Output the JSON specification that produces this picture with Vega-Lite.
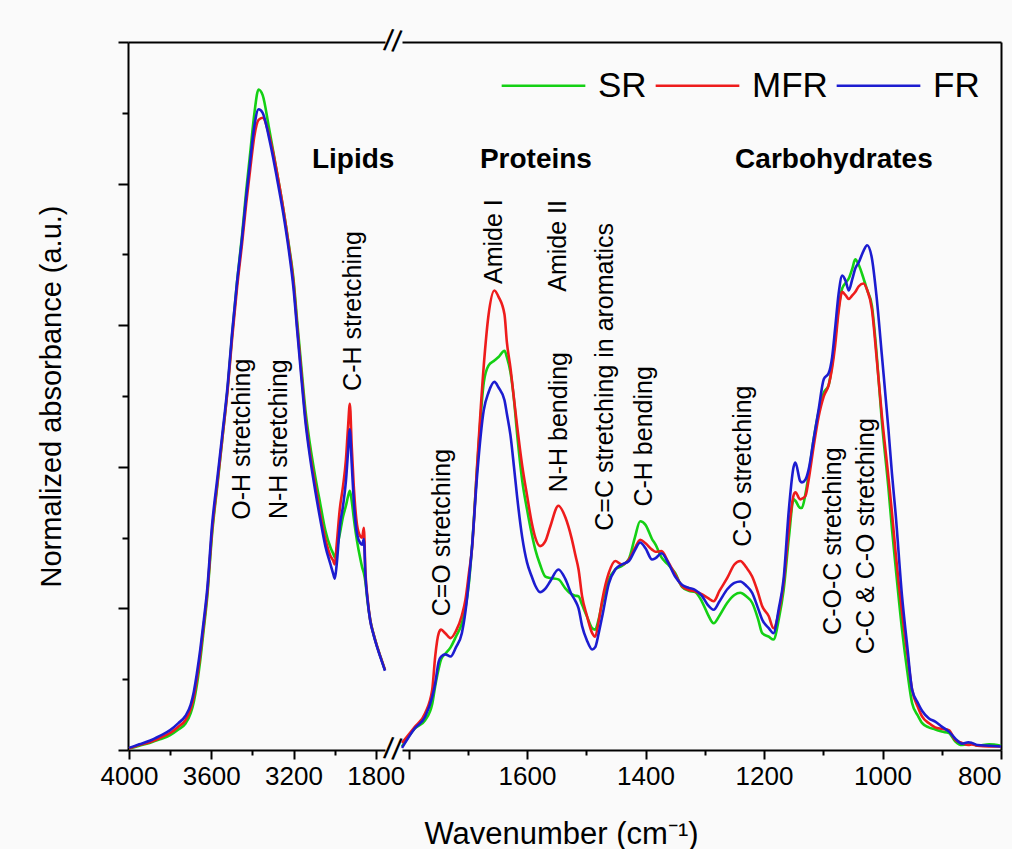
{
  "$schema": "https://vega.github.io/schema/vega-lite/v6.json",
  "background": "#fafafa",
  "padding": {"left": 37, "top": 25, "right": 5, "bottom": 0},
  "bounds": "flush",
  "config": {
    "font": "Liberation Sans",
    "view": {"stroke": null},
    "axis": {"domainColor": "black", "domainWidth": 2, "tickColor": "black", "tickWidth": 2, "labelColor": "black", "labelFontSize": 26, "grid": false, "titleColor": "black", "titleFontWeight": "normal"},
    "legend": {"labelColor": "black"}
  },
  "spacing": 17,
  "resolve": {"scale": {"color": "shared"}, "legend": {"color": "shared"}},
  "datasets": {
    "lft": [
      {"w":4000,"SR":0.002,"MFR":0.002,"FR":0.003},
      {"w":3950,"SR":0.006,"MFR":0.007,"FR":0.008},
      {"w":3900,"SR":0.010,"MFR":0.011,"FR":0.013},
      {"w":3850,"SR":0.015,"MFR":0.017,"FR":0.020},
      {"w":3800,"SR":0.021,"MFR":0.024,"FR":0.028},
      {"w":3760,"SR":0.029,"MFR":0.033,"FR":0.038},
      {"w":3726,"SR":0.037,"MFR":0.042,"FR":0.048},
      {"w":3700,"SR":0.052,"MFR":0.058,"FR":0.064},
      {"w":3685,"SR":0.068,"MFR":0.075,"FR":0.082},
      {"w":3670,"SR":0.092,"MFR":0.100,"FR":0.108},
      {"w":3653,"SR":0.128,"MFR":0.136,"FR":0.143},
      {"w":3636,"SR":0.172,"MFR":0.178,"FR":0.184},
      {"w":3620,"SR":0.215,"MFR":0.220,"FR":0.226},
      {"w":3596,"SR":0.305,"MFR":0.310,"FR":0.318},
      {"w":3570,"SR":0.375,"MFR":0.378,"FR":0.385},
      {"w":3547,"SR":0.437,"MFR":0.438,"FR":0.444},
      {"w":3520,"SR":0.512,"MFR":0.510,"FR":0.516},
      {"w":3499,"SR":0.585,"MFR":0.580,"FR":0.588},
      {"w":3475,"SR":0.660,"MFR":0.652,"FR":0.660},
      {"w":3450,"SR":0.728,"MFR":0.716,"FR":0.724},
      {"w":3430,"SR":0.790,"MFR":0.772,"FR":0.782},
      {"w":3410,"SR":0.845,"MFR":0.822,"FR":0.834},
      {"w":3390,"SR":0.900,"MFR":0.868,"FR":0.882},
      {"w":3370,"SR":0.933,"MFR":0.890,"FR":0.905},
      {"w":3350,"SR":0.925,"MFR":0.893,"FR":0.900},
      {"w":3320,"SR":0.880,"MFR":0.870,"FR":0.866},
      {"w":3300,"SR":0.848,"MFR":0.845,"FR":0.838},
      {"w":3280,"SR":0.815,"MFR":0.815,"FR":0.807},
      {"w":3250,"SR":0.765,"MFR":0.765,"FR":0.758},
      {"w":3223,"SR":0.714,"MFR":0.712,"FR":0.706},
      {"w":3200,"SR":0.665,"MFR":0.660,"FR":0.652},
      {"w":3182,"SR":0.605,"MFR":0.598,"FR":0.592},
      {"w":3160,"SR":0.535,"MFR":0.527,"FR":0.520},
      {"w":3142,"SR":0.480,"MFR":0.470,"FR":0.464},
      {"w":3120,"SR":0.432,"MFR":0.420,"FR":0.414},
      {"w":3093,"SR":0.384,"MFR":0.372,"FR":0.364},
      {"w":3070,"SR":0.348,"MFR":0.333,"FR":0.326},
      {"w":3045,"SR":0.310,"MFR":0.298,"FR":0.288},
      {"w":3020,"SR":0.286,"MFR":0.274,"FR":0.262},
      {"w":3008,"SR":0.278,"MFR":0.268,"FR":0.250},
      {"w":2999,"SR":0.272,"MFR":0.262,"FR":0.242},
      {"w":2990,"SR":0.283,"MFR":0.290,"FR":0.262},
      {"w":2975,"SR":0.305,"MFR":0.340,"FR":0.315},
      {"w":2959,"SR":0.330,"MFR":0.373,"FR":0.345},
      {"w":2945,"SR":0.345,"MFR":0.410,"FR":0.380},
      {"w":2935,"SR":0.358,"MFR":0.455,"FR":0.420},
      {"w":2926,"SR":0.366,"MFR":0.489,"FR":0.453},
      {"w":2917,"SR":0.352,"MFR":0.430,"FR":0.405},
      {"w":2907,"SR":0.328,"MFR":0.373,"FR":0.352},
      {"w":2891,"SR":0.295,"MFR":0.318,"FR":0.305},
      {"w":2875,"SR":0.270,"MFR":0.302,"FR":0.292},
      {"w":2866,"SR":0.258,"MFR":0.300,"FR":0.290},
      {"w":2858,"SR":0.250,"MFR":0.314,"FR":0.298},
      {"w":2850,"SR":0.237,"MFR":0.250,"FR":0.245},
      {"w":2840,"SR":0.210,"MFR":0.215,"FR":0.212},
      {"w":2827,"SR":0.184,"MFR":0.184,"FR":0.183},
      {"w":2810,"SR":0.163,"MFR":0.163,"FR":0.162},
      {"w":2793,"SR":0.146,"MFR":0.146,"FR":0.145},
      {"w":2775,"SR":0.130,"MFR":0.130,"FR":0.129},
      {"w":2755,"SR":0.113,"MFR":0.113,"FR":0.112}
    ],
    "rgt": [
      {"w":1811,"SR":0.005,"MFR":0.010,"FR":0.003},
      {"w":1790,"SR":0.030,"MFR":0.032,"FR":0.030},
      {"w":1772,"SR":0.042,"MFR":0.052,"FR":0.047},
      {"w":1760,"SR":0.065,"MFR":0.085,"FR":0.075},
      {"w":1755,"SR":0.090,"MFR":0.132,"FR":0.094},
      {"w":1749,"SR":0.115,"MFR":0.165,"FR":0.125},
      {"w":1745,"SR":0.128,"MFR":0.170,"FR":0.132},
      {"w":1738,"SR":0.136,"MFR":0.165,"FR":0.135},
      {"w":1729,"SR":0.145,"MFR":0.158,"FR":0.132},
      {"w":1720,"SR":0.160,"MFR":0.168,"FR":0.145},
      {"w":1710,"SR":0.179,"MFR":0.190,"FR":0.165},
      {"w":1704,"SR":0.200,"MFR":0.212,"FR":0.195},
      {"w":1698,"SR":0.236,"MFR":0.250,"FR":0.240},
      {"w":1693,"SR":0.285,"MFR":0.283,"FR":0.285},
      {"w":1684,"SR":0.401,"MFR":0.405,"FR":0.390},
      {"w":1673,"SR":0.519,"MFR":0.543,"FR":0.480},
      {"w":1665,"SR":0.543,"MFR":0.614,"FR":0.505},
      {"w":1655,"SR":0.550,"MFR":0.649,"FR":0.520},
      {"w":1648,"SR":0.555,"MFR":0.640,"FR":0.512},
      {"w":1638,"SR":0.564,"MFR":0.615,"FR":0.494},
      {"w":1634,"SR":0.555,"MFR":0.576,"FR":0.475},
      {"w":1628,"SR":0.534,"MFR":0.540,"FR":0.445},
      {"w":1622,"SR":0.495,"MFR":0.496,"FR":0.400},
      {"w":1617,"SR":0.449,"MFR":0.460,"FR":0.360},
      {"w":1608,"SR":0.380,"MFR":0.401,"FR":0.300},
      {"w":1600,"SR":0.340,"MFR":0.360,"FR":0.265},
      {"w":1592,"SR":0.305,"MFR":0.321,"FR":0.245},
      {"w":1586,"SR":0.283,"MFR":0.300,"FR":0.232},
      {"w":1578,"SR":0.262,"MFR":0.288,"FR":0.223},
      {"w":1569,"SR":0.245,"MFR":0.295,"FR":0.228},
      {"w":1561,"SR":0.243,"MFR":0.315,"FR":0.238},
      {"w":1547,"SR":0.241,"MFR":0.345,"FR":0.255},
      {"w":1535,"SR":0.228,"MFR":0.328,"FR":0.241},
      {"w":1525,"SR":0.220,"MFR":0.300,"FR":0.220},
      {"w":1518,"SR":0.218,"MFR":0.274,"FR":0.210},
      {"w":1513,"SR":0.217,"MFR":0.255,"FR":0.200},
      {"w":1507,"SR":0.205,"MFR":0.217,"FR":0.175},
      {"w":1499,"SR":0.189,"MFR":0.190,"FR":0.155},
      {"w":1490,"SR":0.172,"MFR":0.165,"FR":0.142},
      {"w":1485,"SR":0.170,"MFR":0.160,"FR":0.145},
      {"w":1479,"SR":0.185,"MFR":0.182,"FR":0.165},
      {"w":1473,"SR":0.208,"MFR":0.212,"FR":0.189},
      {"w":1462,"SR":0.240,"MFR":0.250,"FR":0.235},
      {"w":1451,"SR":0.255,"MFR":0.267,"FR":0.255},
      {"w":1440,"SR":0.260,"MFR":0.262,"FR":0.262},
      {"w":1428,"SR":0.270,"MFR":0.269,"FR":0.267},
      {"w":1418,"SR":0.300,"MFR":0.285,"FR":0.282},
      {"w":1409,"SR":0.323,"MFR":0.297,"FR":0.293},
      {"w":1400,"SR":0.318,"MFR":0.292,"FR":0.285},
      {"w":1389,"SR":0.298,"MFR":0.283,"FR":0.269},
      {"w":1383,"SR":0.290,"MFR":0.280,"FR":0.271},
      {"w":1373,"SR":0.272,"MFR":0.281,"FR":0.278},
      {"w":1362,"SR":0.262,"MFR":0.266,"FR":0.265},
      {"w":1350,"SR":0.250,"MFR":0.248,"FR":0.245},
      {"w":1338,"SR":0.230,"MFR":0.231,"FR":0.233},
      {"w":1327,"SR":0.225,"MFR":0.226,"FR":0.229},
      {"w":1316,"SR":0.223,"MFR":0.224,"FR":0.226},
      {"w":1305,"SR":0.210,"MFR":0.220,"FR":0.218},
      {"w":1295,"SR":0.192,"MFR":0.215,"FR":0.205},
      {"w":1285,"SR":0.179,"MFR":0.210,"FR":0.198},
      {"w":1275,"SR":0.190,"MFR":0.225,"FR":0.210},
      {"w":1262,"SR":0.208,"MFR":0.243,"FR":0.227},
      {"w":1250,"SR":0.219,"MFR":0.262,"FR":0.236},
      {"w":1240,"SR":0.222,"MFR":0.267,"FR":0.238},
      {"w":1230,"SR":0.217,"MFR":0.258,"FR":0.232},
      {"w":1220,"SR":0.208,"MFR":0.245,"FR":0.222},
      {"w":1210,"SR":0.185,"MFR":0.222,"FR":0.200},
      {"w":1203,"SR":0.165,"MFR":0.203,"FR":0.184},
      {"w":1192,"SR":0.160,"MFR":0.189,"FR":0.172},
      {"w":1184,"SR":0.156,"MFR":0.172,"FR":0.165},
      {"w":1175,"SR":0.185,"MFR":0.195,"FR":0.200},
      {"w":1167,"SR":0.225,"MFR":0.235,"FR":0.241},
      {"w":1158,"SR":0.300,"MFR":0.312,"FR":0.340},
      {"w":1150,"SR":0.354,"MFR":0.360,"FR":0.400},
      {"w":1147,"SR":0.352,"MFR":0.364,"FR":0.406},
      {"w":1139,"SR":0.342,"MFR":0.354,"FR":0.380},
      {"w":1136,"SR":0.342,"MFR":0.355,"FR":0.378},
      {"w":1130,"SR":0.362,"MFR":0.359,"FR":0.382},
      {"w":1125,"SR":0.387,"MFR":0.380,"FR":0.395},
      {"w":1116,"SR":0.440,"MFR":0.430,"FR":0.440},
      {"w":1108,"SR":0.477,"MFR":0.470,"FR":0.480},
      {"w":1099,"SR":0.505,"MFR":0.500,"FR":0.524},
      {"w":1091,"SR":0.515,"MFR":0.515,"FR":0.532},
      {"w":1085,"SR":0.545,"MFR":0.540,"FR":0.555},
      {"w":1080,"SR":0.581,"MFR":0.571,"FR":0.595},
      {"w":1074,"SR":0.625,"MFR":0.620,"FR":0.645},
      {"w":1068,"SR":0.652,"MFR":0.647,"FR":0.670},
      {"w":1062,"SR":0.660,"MFR":0.642,"FR":0.662},
      {"w":1057,"SR":0.666,"MFR":0.637,"FR":0.649},
      {"w":1051,"SR":0.680,"MFR":0.642,"FR":0.665},
      {"w":1046,"SR":0.693,"MFR":0.647,"FR":0.680},
      {"w":1040,"SR":0.685,"MFR":0.655,"FR":0.689},
      {"w":1032,"SR":0.666,"MFR":0.659,"FR":0.705},
      {"w":1026,"SR":0.650,"MFR":0.650,"FR":0.713},
      {"w":1018,"SR":0.628,"MFR":0.623,"FR":0.695},
      {"w":1010,"SR":0.560,"MFR":0.555,"FR":0.640},
      {"w":1001,"SR":0.463,"MFR":0.472,"FR":0.557},
      {"w":990,"SR":0.370,"MFR":0.385,"FR":0.453},
      {"w":984,"SR":0.312,"MFR":0.335,"FR":0.390},
      {"w":978,"SR":0.260,"MFR":0.280,"FR":0.335},
      {"w":967,"SR":0.170,"MFR":0.194,"FR":0.217},
      {"w":958,"SR":0.110,"MFR":0.135,"FR":0.145},
      {"w":950,"SR":0.066,"MFR":0.085,"FR":0.085},
      {"w":940,"SR":0.048,"MFR":0.060,"FR":0.066},
      {"w":933,"SR":0.038,"MFR":0.047,"FR":0.055},
      {"w":922,"SR":0.032,"MFR":0.038,"FR":0.045},
      {"w":911,"SR":0.029,"MFR":0.032,"FR":0.040},
      {"w":900,"SR":0.026,"MFR":0.030,"FR":0.033},
      {"w":888,"SR":0.024,"MFR":0.028,"FR":0.026},
      {"w":877,"SR":0.012,"MFR":0.014,"FR":0.016},
      {"w":866,"SR":0.007,"MFR":0.010,"FR":0.009},
      {"w":855,"SR":0.008,"MFR":0.007,"FR":0.011},
      {"w":849,"SR":0.009,"MFR":0.008,"FR":0.010},
      {"w":840,"SR":0.006,"MFR":0.006,"FR":0.007},
      {"w":820,"SR":0.008,"MFR":0.005,"FR":0.006},
      {"w":800,"SR":0.006,"MFR":0.005,"FR":0.005}
    ],
    "lnotes": [
      {"w":3450,"a":0.439,"t":"O-H stretching"},
      {"w":3270,"a":0.439,"t":"N-H stretching"},
      {"w":2910,"a":0.620,"t":"C-H stretching"}
    ],
    "lhead": [
      {"w":2910,"a":0.834,"t":"Lipids"}
    ],
    "rnotes": [
      {"w":1743,"a":0.307,"t":"C=O stretching"},
      {"w":1656,"a":0.718,"t":"Amide I"},
      {"w":1548,"a":0.712,"t":"Amide II"},
      {"w":1546,"a":0.463,"t":"N-H bending"},
      {"w":1468,"a":0.527,"t":"C=C stretching in aromatics"},
      {"w":1403,"a":0.443,"t":"C-H bending"},
      {"w":1235,"a":0.401,"t":"C-O stretching"},
      {"w":1084,"a":0.295,"t":"C-O-C stretching"},
      {"w":1028,"a":0.302,"t":"C-C & C-O stretching"}
    ],
    "rhead": [
      {"w":1585,"a":0.834,"t":"Proteins"},
      {"w":1082,"a":0.834,"t":"Carbohydrates"}
    ],
    "brk": [
      {"w":2718,"a":0},
      {"w":2718,"a":1}
    ]
  },
  "hconcat": [
    {
      "width": 257,
      "height": 708,
      "layer": [
        {
          "data": {"name": "lft"},
          "transform": [{"fold": ["SR", "MFR", "FR"], "as": ["s", "a"]}],
          "mark": {"type": "line", "strokeWidth": 2.6, "interpolate": "monotone"},
          "encoding": {
            "x": {"field": "w", "type": "quantitative",
              "scale": {"domain": [4005, 2755], "nice": false, "zero": false},
              "axis": {"orient": "bottom", "values": [4000, 3800, 3600, 3400, 3200, 3000, 2800], "format": "d",
                "labelExpr": "datum.value == 2800 ? '1800' : (datum.value % 400 == 0 ? datum.label : '')",
                "tickSize": {"condition": {"test": "datum.value % 400 == 0", "value": 9}, "value": 5},
                "labelPadding": 4, "title": null}},
            "y": {"field": "a", "type": "quantitative",
              "scale": {"domain": [0, 1], "nice": false},
              "axis": {"values": [0, 0.1, 0.2, 0.3, 0.4, 0.5, 0.6, 0.7, 0.8, 0.9, 1], "labels": false,
                "tickSize": {"condition": {"test": "round(datum.value * 10) % 2 == 0", "value": 10}, "value": 6},
                "title": "Normalized absorbance (a.u.)", "titleFontSize": 29, "titlePadding": 51}},
            "color": {"field": "s", "type": "nominal",
              "scale": {"domain": ["SR", "MFR", "FR"], "range": ["#14d014", "#ee1c1c", "#1c1cd0"]},
              "legend": {"orient": "none", "legendX": 372, "legendY": 0, "direction": "horizontal", "title": null, "symbolType": "stroke",
                "symbolSize": 7000, "symbolStrokeWidth": 2.6, "labelFontSize": 35, "labelOffset": 11,
                "columnPadding": 3, "padding": 0}}
          }
        },
        {
          "data": {"name": "lnotes"},
          "mark": {"type": "text", "angle": 270, "fontSize": 25, "align": "center", "baseline": "middle", "color": "black"},
          "encoding": {
            "x": {"field": "w", "type": "quantitative", "axis": {"orient": "top", "ticks": false, "labels": false, "title": null, "domain": true}},
            "y": {"field": "a", "type": "quantitative"},
            "text": {"field": "t"}
          }
        },
        {
          "data": {"name": "lhead"},
          "mark": {"type": "text", "fontSize": 28, "fontWeight": "bold", "align": "center", "baseline": "middle", "color": "black"},
          "encoding": {
            "x": {"field": "w", "type": "quantitative", "axis": null},
            "y": {"field": "a", "type": "quantitative"},
            "text": {"field": "t"}
          }
        },
        {
          "data": {"name": "brk"},
          "mark": {"type": "text", "text": "//", "fontSize": 30, "angle": 8, "align": "center", "baseline": "middle", "color": "black"},
          "encoding": {
            "x": {"field": "w", "type": "quantitative", "axis": null},
            "y": {"field": "a", "type": "quantitative"}
          }
        }
      ],
      "resolve": {"axis": {"x": "independent"}}
    },
    {
      "width": 599,
      "height": 708,
      "layer": [
        {
          "data": {"name": "rgt"},
          "transform": [{"fold": ["SR", "MFR", "FR"], "as": ["s", "a"]}],
          "mark": {"type": "line", "strokeWidth": 2.6, "interpolate": "monotone"},
          "encoding": {
            "x": {"field": "w", "type": "quantitative",
              "scale": {"domain": [1811, 800], "nice": false, "zero": false},
              "axis": {"orient": "bottom", "values": [1800, 1700, 1600, 1500, 1400, 1300, 1200, 1100, 1000, 900, 800], "format": "d",
                "labelExpr": "(datum.value % 200 == 0 && datum.value <= 1600) ? datum.label : ''",
                "tickSize": {"condition": {"test": "datum.value % 200 == 0", "value": 9}, "value": 5},
                "labelPadding": 4,
                "title": "Wavenumber (cm⁻¹)", "titleFontSize": 31, "titleX": 159, "titleAlign": "center", "titlePadding": 30}},
            "y": {"field": "a", "type": "quantitative",
              "scale": {"domain": [0, 1], "nice": false},
              "axis": {"orient": "right", "ticks": false, "labels": false, "title": null, "domain": true}},
            "color": {"field": "s", "type": "nominal",
              "scale": {"domain": ["SR", "MFR", "FR"], "range": ["#14d014", "#ee1c1c", "#1c1cd0"]},
              "legend": {"orient": "none", "legendX": 372, "legendY": 0, "direction": "horizontal", "title": null, "symbolType": "stroke",
                "symbolSize": 7000, "symbolStrokeWidth": 2.6, "labelFontSize": 35, "labelOffset": 11,
                "columnPadding": 3, "padding": 0}}
          }
        },
        {
          "data": {"name": "rnotes"},
          "mark": {"type": "text", "angle": 270, "fontSize": 25, "align": "center", "baseline": "middle", "color": "black"},
          "encoding": {
            "x": {"field": "w", "type": "quantitative", "axis": {"orient": "top", "ticks": false, "labels": false, "title": null, "domain": true}},
            "y": {"field": "a", "type": "quantitative"},
            "text": {"field": "t"}
          }
        },
        {
          "data": {"name": "rhead"},
          "mark": {"type": "text", "fontSize": 28, "fontWeight": "bold", "align": "center", "baseline": "middle", "color": "black"},
          "encoding": {
            "x": {"field": "w", "type": "quantitative", "axis": null},
            "y": {"field": "a", "type": "quantitative"},
            "text": {"field": "t"}
          }
        }
      ],
      "resolve": {"axis": {"x": "independent"}}
    }
  ]
}
